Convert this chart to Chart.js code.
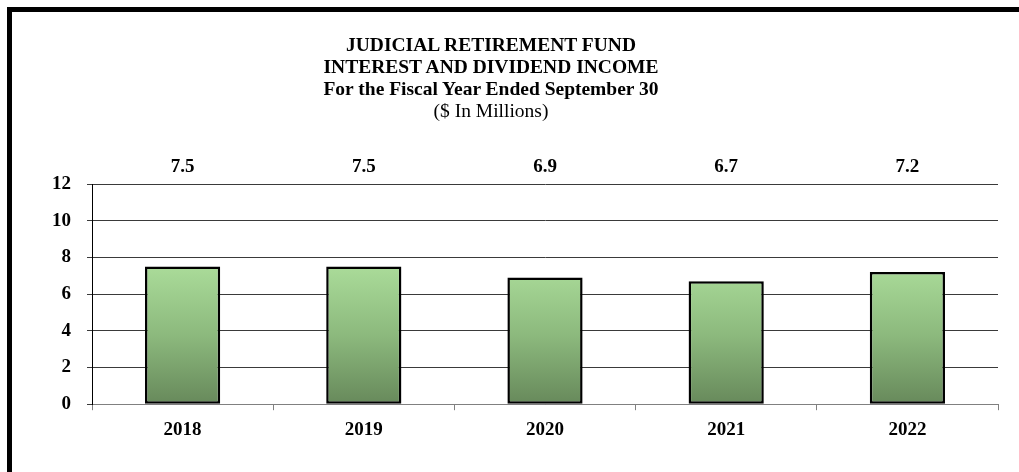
<!DOCTYPE html>
<html>
<head>
<meta charset="utf-8">
<script src="https://cdn.jsdelivr.net/npm/chart.js@4.4.1/dist/chart.umd.min.js"></script>
<style>
  html, body { margin: 0; padding: 0; background: #fff; }
  #wrap { position: relative; width: 1019px; height: 472px; overflow: hidden; }
  #frame {
    position: absolute; left: 7px; top: 7px; width: 1100px; height: 600px;
    border-left: 5px solid #000; border-top: 5px solid #000;
  }
  #title {
    position: absolute; left: 241px; width: 500px; top: 34px;
    text-align: center; font-family: "Liberation Serif", "Times New Roman", serif;
    font-size: 19.5px; line-height: 22px; color: #000;
  }
  #title b { font-weight: bold; }
  canvas { position: absolute; left: 0; top: 0; }
</style>
</head>
<body>
<div id="wrap">
  <div id="frame"></div>
  <canvas id="incomeChart" width="1019" height="472"></canvas>
  <div id="title">
    <b>JUDICIAL RETIREMENT FUND</b><br>
    <b>INTEREST AND DIVIDEND INCOME</b><br>
    <b>For the Fiscal Year Ended September 30</b><br>
    ($ In Millions)
  </div>
</div>
<script>
  const years = ["2018", "2019", "2020", "2021", "2022"];
  const income = [7.5, 7.5, 6.9, 6.7, 7.2];
  const yTicks = [0, 2, 4, 6, 8, 10, 12];

  const serif = '"Liberation Serif", "Times New Roman", serif';

  // values printed in a row above the plot, one per bar
  const topLabels = {
    id: "topLabels",
    afterDatasetsDraw(chart) {
      const { ctx, chartArea } = chart;
      const meta = chart.getDatasetMeta(0);
      ctx.save();
      ctx.font = "bold 19px " + serif;
      ctx.fillStyle = "#000";
      ctx.textAlign = "center";
      ctx.textBaseline = "middle";
      meta.data.forEach((bar, i) => {
        ctx.fillText(income[i].toFixed(1), bar.x, chartArea.top - 17);
      });
      ctx.restore();
    }
  };

  function barGradient(context) {
    const { chart } = context;
    const area = chart.chartArea;
    if (!area) return "#9cc98c";
    const y = chart.scales.y;
    const g = chart.ctx.createLinearGradient(0, y.getPixelForValue(7.5), 0, area.bottom);
    g.addColorStop(0, "#aadb99");
    g.addColorStop(0.5, "#8cb97d");
    g.addColorStop(1, "#67895b");
    return g;
  }

  new Chart(document.getElementById("incomeChart"), {
    type: "bar",
    data: {
      labels: years,
      datasets: [{
        data: income,
        backgroundColor: barGradient,
        borderColor: "#000",
        borderWidth: 2.5,
        borderSkipped: false,
        categoryPercentage: 1,
        barPercentage: 0.415
      }]
    },
    options: {
      responsive: false,
      animation: false,
      layout: { padding: { top: 184, right: 21, bottom: 23, left: 40 } },
      plugins: {
        legend: { display: false },
        tooltip: { enabled: false }
      },
      scales: {
        x: {
          offset: true,
          grid: {
            offset: true,
            drawOnChartArea: false,
            color: "#808080",
            tickLength: 6
          },
          border: { color: "#808080", width: 1 },
          ticks: {
            color: "#000",
            padding: 8,
            font: { family: serif, size: 19, weight: "bold" }
          }
        },
        y: {
          min: 0,
          max: 12,
          afterBuildTicks(axis) { axis.ticks = yTicks.map(v => ({ value: v })); },
          afterFit(axis) { axis.width = 52; },
          grid: { color: "#3a3a3a", tickLength: 5 },
          border: { color: "#000", width: 1 },
          ticks: {
            color: "#000",
            padding: 16,
            font: { family: serif, size: 19, weight: "bold" }
          }
        }
      }
    },
    plugins: [topLabels]
  });
</script>
</body>
</html>
